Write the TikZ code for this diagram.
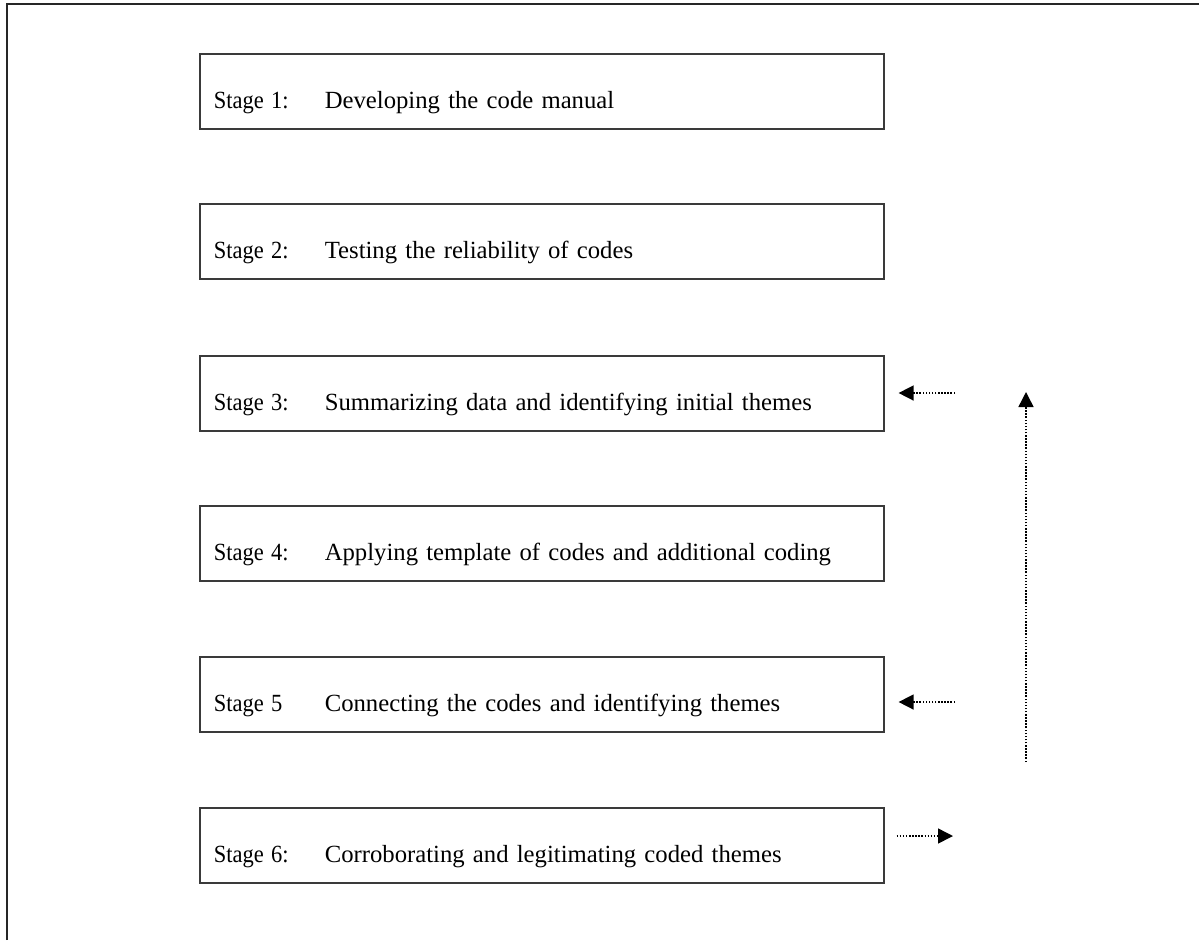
\documentclass[tikz,border=0pt]{standalone}
\usepackage{fontspec}
\usepackage{graphicx}
\setmainfont{Liberation Serif}
\usetikzlibrary{arrows.meta}
\definecolor{boxline}{HTML}{3A3A3A}
\definecolor{frameline}{HTML}{262626}
\tikzset{
  stagebox/.style={draw=boxline, line width=1.6pt, anchor=north west,
    minimum width=684pt, text width=656pt, inner xsep=14pt, inner ysep=0pt,
    text height=55pt, text depth=20pt, align=left,
    font=\fontsize{24.7pt}{30pt}\selectfont},
  dotarrow/.style={draw=black, line width=1.5pt, dash pattern=on 1.5pt off 1.6pt,
    -{Triangle[length=15pt,width=15pt]}},
}
\newcommand{\stg}[2]{\makebox[111pt][l]{\scalebox{0.91}[1]{#1}}#2}
\begin{document}
\begin{tikzpicture}[x=1pt,y=-1pt]
\useasboundingbox (0,0) rectangle (1199,940);
\draw[frameline, line width=2pt] (7,940) -- (7,4) -- (1199,4);
\node[stagebox] (b1) at (199,53)  {\stg{Stage 1:}{Developing the code manual}};
\node[stagebox] (b2) at (199,203) {\stg{Stage 2:}{Testing the reliability of codes}};
\node[stagebox] (b3) at (199,355) {\stg{Stage 3:}{Summarizing data and identifying initial themes}};
\node[stagebox] (b4) at (199,505) {\stg{Stage 4:}{Applying template of codes and additional coding}};
\node[stagebox] (b5) at (199,656) {\stg{Stage 5}{Connecting the codes and identifying themes}};
\node[stagebox] (b6) at (199,807) {\stg{Stage 6:}{Corroborating and legitimating coded themes}};
\coordinate (a3) at (955,393);
\coordinate (a5) at (955,702);
\coordinate (a6) at (953,836);
\coordinate (vbot) at (1026,762);
\coordinate (vtop) at (1026,392);
\draw[dotarrow, shorten >=14pt] (a3) -- (b3.east |- a3);
\draw[dotarrow, shorten >=14pt] (a5) -- (b5.east |- a5);
\draw[dotarrow, shorten <=12pt] (b6.east |- a6) -- (a6);
\draw[dotarrow] (vbot) -- (vtop);
\end{tikzpicture}
\end{document}
